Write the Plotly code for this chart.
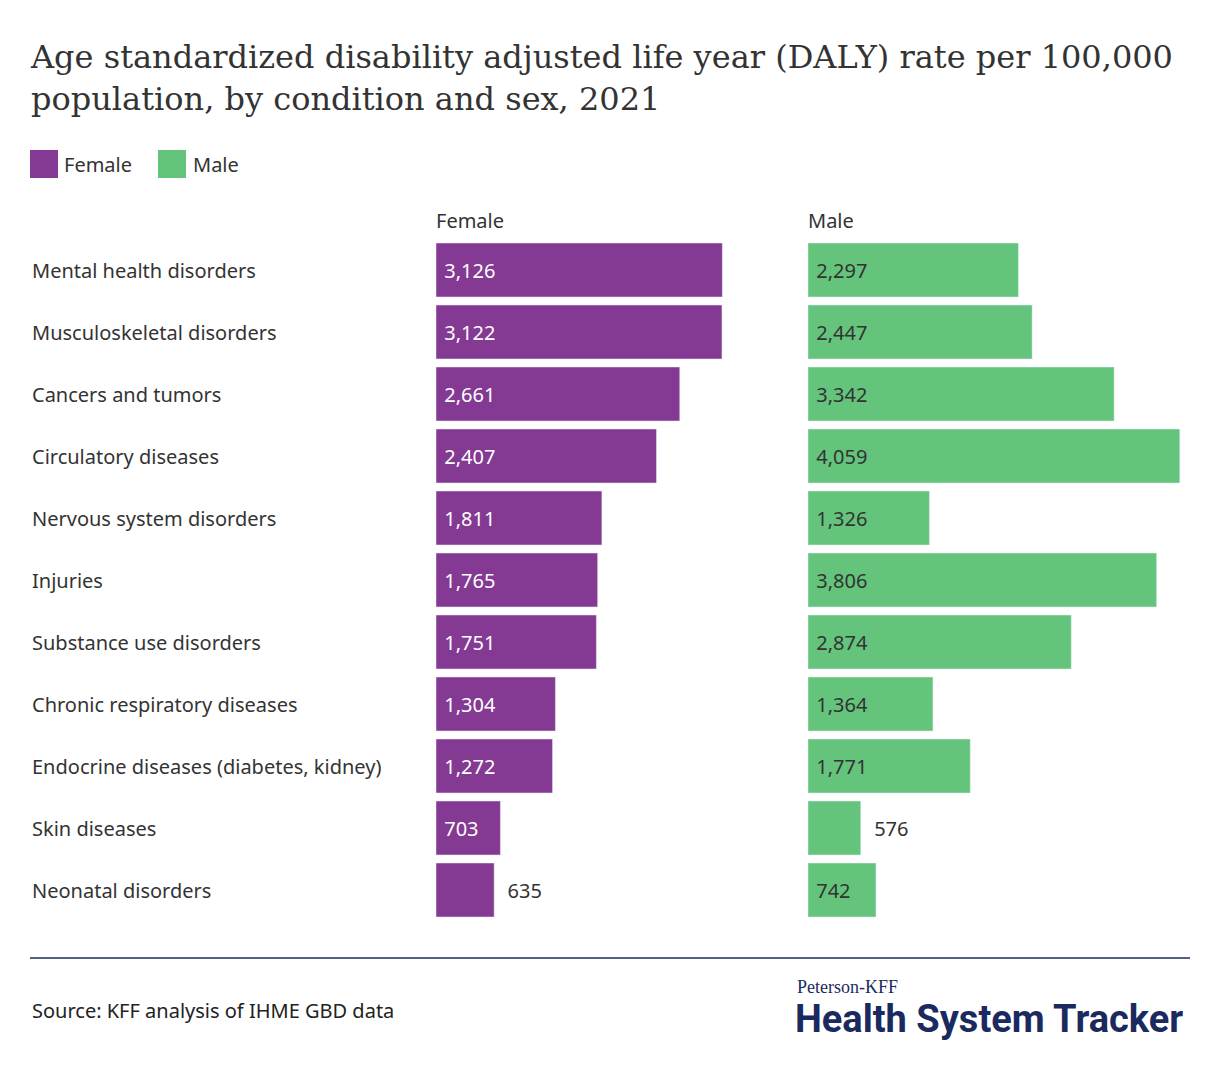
import plotly.graph_objects as go

W, H = 1220, 1090

conditions = ["Mental health disorders", "Musculoskeletal disorders", "Cancers and tumors",
              "Circulatory diseases", "Nervous system disorders", "Injuries",
              "Substance use disorders", "Chronic respiratory diseases",
              "Endocrine diseases (diabetes, kidney)", "Skin diseases", "Neonatal disorders"]
female = [3126, 3122, 2661, 2407, 1811, 1765, 1751, 1304, 1272, 703, 635]
male = [2297, 2447, 3342, 4059, 1326, 3806, 2874, 1364, 1771, 576, 742]

PURPLE = "#843993"
GREEN = "#64C47C"
NAVY = "#1B2A5E"
FONT = "Noto Sans"
FS = 20

px_per_unit = 0.0916
OFF = 8  # page body margin


def px(x):
    return (x - OFF) / W


def py(y):
    return 1 - (y - OFF) / H


def text_pos(vals, limit=650):
    return ["inside" if v >= limit else "outside" for v in vals]


def labels(vals, limit=650):
    return [(" " if v >= limit else "  ") + f"{v:,}" for v in vals]


fig = go.Figure()
fig.add_trace(go.Bar(
    y=conditions, x=female, orientation="h", marker_color=PURPLE,
    text=labels(female), textposition=text_pos(female),
    insidetextanchor="start", textangle=0,
    insidetextfont=dict(color="white", size=FS, family=FONT),
    outsidetextfont=dict(color="#333", size=FS, family=FONT),
    xaxis="x", yaxis="y", cliponaxis=False,
))
fig.add_trace(go.Bar(
    y=conditions, x=male, orientation="h", marker_color=GREEN,
    text=labels(male), textposition=text_pos(male),
    insidetextanchor="start", textangle=0,
    insidetextfont=dict(color="#333", size=FS, family=FONT),
    outsidetextfont=dict(color="#333", size=FS, family=FONT),
    xaxis="x2", yaxis="y", cliponaxis=False,
))

fig.update_layout(
    width=W, height=H, margin=dict(l=0, r=0, t=0, b=0),
    paper_bgcolor="white", plot_bgcolor="white", showlegend=False,
    bargap=0.13, uniformtext=dict(mode="show", minsize=10),
    font=dict(family=FONT, color="#333"),
    xaxis=dict(domain=[px(436), px(730)], range=[0, 294 / px_per_unit], visible=False),
    xaxis2=dict(domain=[px(808), px(1190)], range=[0, 382 / px_per_unit], visible=False),
    yaxis=dict(domain=[py(921), py(239)], autorange="reversed", visible=False),
)


def note(x, y, text, size=FS, anchor="left", color="#333", family=FONT):
    return dict(x=px(x), y=py(y), xref="paper", yref="paper", text=text, showarrow=False,
                xanchor=anchor, yanchor="middle", align="left",
                font=dict(size=size, color=color, family=family))


ann = []
for c in conditions:
    ann.append(dict(x=px(30), y=c, xref="paper", yref="y", text=c, showarrow=False,
                    xanchor="left", font=dict(size=FS, color="#333", family=FONT)))
ann += [
    note(28, 78, "Age standardized disability adjusted life year (DALY) rate per 100,000<br>population, by condition and sex, 2021",
         size=32, family="DejaVu Serif"),
    note(62, 164, "Female"),
    note(191, 164, "Male"),
    note(434, 220, "Female"),
    note(806, 220, "Male"),
    note(30, 1010, "Source: KFF analysis of IHME GBD data", color="#222"),
    note(795, 987, "Peterson-KFF", size=18, color=NAVY, family="Liberation Serif"),
    note(793, 1019, "<b>Health System Tracker</b>", size=38, color=NAVY, family="Roboto"),
]
fig.update_layout(annotations=ann)

fig.update_layout(shapes=[
    dict(type="rect", xref="paper", yref="paper", x0=px(30), x1=px(58), y0=py(178), y1=py(150),
         fillcolor=PURPLE, line_width=0),
    dict(type="rect", xref="paper", yref="paper", x0=px(158), x1=px(186), y0=py(178), y1=py(150),
         fillcolor=GREEN, line_width=0),
    dict(type="line", xref="paper", yref="paper", x0=px(30), x1=px(1190), y0=py(958), y1=py(958),
         line=dict(color=NAVY, width=1.5)),
])

fig.write_html("out.html")
